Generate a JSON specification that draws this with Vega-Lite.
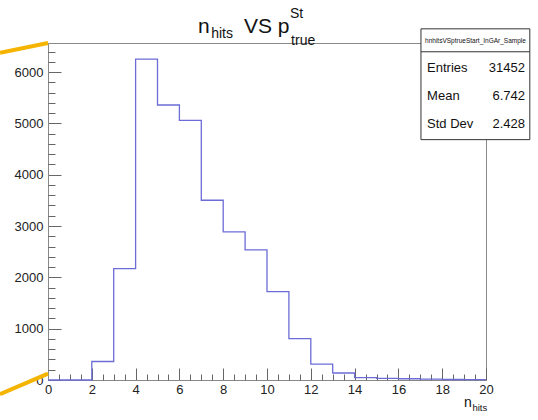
{
  "$schema": "https://vega.github.io/schema/vega-lite/v6.json",
  "width": 438,
  "height": 337,
  "autosize": {"type": "none"},
  "padding": {"left": 48, "top": 43, "right": 52, "bottom": 40},
  "background": "white",
  "config": {
    "view": {"stroke": "#8a8a8a", "strokeWidth": 1},
    "font": "Liberation Sans",
    "text": {"font": "Liberation Sans", "color": "#111"}
  },
  "datasets": {
    "one": [{}],
    "hist": [
      {"lo": 0, "n": 0},
      {"lo": 2, "n": 360},
      {"lo": 3, "n": 2170},
      {"lo": 4, "n": 6253},
      {"lo": 5, "n": 5358},
      {"lo": 6, "n": 5058},
      {"lo": 7, "n": 3502},
      {"lo": 8, "n": 2887},
      {"lo": 9, "n": 2537},
      {"lo": 10, "n": 1720},
      {"lo": 11, "n": 805},
      {"lo": 12, "n": 311},
      {"lo": 13, "n": 136},
      {"lo": 14, "n": 47},
      {"lo": 15, "n": 30},
      {"lo": 16, "n": 24},
      {"lo": 17, "n": 18},
      {"lo": 18, "n": 10},
      {"lo": 19, "n": 8},
      {"lo": 20, "n": 8}
    ]
  },
  "data": {"name": "one"},
  "layer": [
    {
      "data": {"name": "hist"},
      "mark": {"type": "line", "interpolate": "step-after", "color": "#6c6cd6", "strokeWidth": 1.3, "clip": false},
      "encoding": {
        "x": {"field": "lo", "type": "quantitative",
          "scale": {"domain": [0, 20], "nice": false, "zero": false},
          "axis": {"orient": "bottom", "values": [0, 2, 4, 6, 8, 10, 12, 14, 16, 18, 20], "title": null, "grid": false,
            "tickSize": -12, "labelPadding": 15, "tickColor": "#666", "domainColor": "#888", "labelFontSize": 13,
            "labelColor": "#222", "labelFont": "Liberation Sans", "labelFlush": false, "labelOverlap": false, "format": "d"}},
        "y": {"field": "n", "type": "quantitative",
          "scale": {"domain": [0, 6566], "nice": false, "zero": true},
          "axis": {"orient": "left", "values": [0, 1000, 2000, 3000, 4000, 5000, 6000], "title": null, "grid": false,
            "tickSize": -13, "labelPadding": 18, "tickColor": "#666", "domainColor": "#888", "labelFontSize": 13,
            "labelColor": "#222", "labelFont": "Liberation Sans", "labelFlush": false, "labelOverlap": false, "format": "d"}}
      }
    },
    {
      "data": {"name": "hist"},
      "mark": {"type": "line", "strokeOpacity": 0},
      "encoding": {
        "x": {"field": "lo", "type": "quantitative",
          "scale": {"domain": [0, 20], "nice": false, "zero": false},
          "axis": {"orient": "bottom", "values": [0.5, 1, 1.5, 2.5, 3, 3.5, 4.5, 5, 5.5, 6.5, 7, 7.5, 8.5, 9, 9.5, 10.5, 11, 11.5, 12.5, 13, 13.5, 14.5, 15, 15.5, 16.5, 17, 17.5, 18.5, 19, 19.5],
            "title": null, "grid": false, "labels": false, "domain": false, "tickSize": -6, "tickColor": "#666"}},
        "y": {"field": "n", "type": "quantitative",
          "scale": {"domain": [0, 6566], "nice": false, "zero": true},
          "axis": {"orient": "left", "values": [200, 400, 600, 800, 1200, 1400, 1600, 1800, 2200, 2400, 2600, 2800, 3200, 3400, 3600, 3800, 4200, 4400, 4600, 4800, 5200, 5400, 5600, 5800, 6200, 6400],
            "title": null, "grid": false, "labels": false, "domain": false, "tickSize": -7, "tickColor": "#666"}}
      }
    },
    {
      "mark": {"type": "rule", "color": "#f5b400", "strokeWidth": 4, "clip": false},
      "encoding": {
        "x": {"datum": -2.19, "type": "quantitative", "axis": null},
        "x2": {"datum": 0},
        "y": {"datum": 6373, "type": "quantitative", "axis": null},
        "y2": {"datum": 6566}
      }
    },
    {
      "mark": {"type": "rule", "color": "#f5b400", "strokeWidth": 4, "clip": false},
      "encoding": {
        "x": {"datum": -2.19, "type": "quantitative", "axis": null},
        "x2": {"datum": 0},
        "y": {"datum": -278, "type": "quantitative", "axis": null},
        "y2": {"datum": 125}
      }
    },
    {
      "mark": {"type": "text", "align": "left", "baseline": "alphabetic", "fontSize": 21},
      "encoding": {
        "x": {"datum": 6.85, "type": "quantitative", "axis": null},
        "y": {"datum": 6765, "type": "quantitative", "axis": null},
        "text": {"value": "n"}
      }
    },
    {
      "mark": {"type": "text", "align": "left", "baseline": "alphabetic", "fontSize": 14},
      "encoding": {
        "x": {"datum": 7.45, "type": "quantitative", "axis": null},
        "y": {"datum": 6667, "type": "quantitative", "axis": null},
        "text": {"value": "hits"}
      }
    },
    {
      "mark": {"type": "text", "align": "left", "baseline": "alphabetic", "fontSize": 21},
      "encoding": {
        "x": {"datum": 8.95, "type": "quantitative", "axis": null},
        "y": {"datum": 6765, "type": "quantitative", "axis": null},
        "text": {"value": "VS p"}
      }
    },
    {
      "mark": {"type": "text", "align": "left", "baseline": "alphabetic", "fontSize": 14},
      "encoding": {
        "x": {"datum": 11.05, "type": "quantitative", "axis": null},
        "y": {"datum": 7056, "type": "quantitative", "axis": null},
        "text": {"value": "St"}
      }
    },
    {
      "mark": {"type": "text", "align": "left", "baseline": "alphabetic", "fontSize": 14},
      "encoding": {
        "x": {"datum": 11.1, "type": "quantitative", "axis": null},
        "y": {"datum": 6531, "type": "quantitative", "axis": null},
        "text": {"value": "true"}
      }
    },
    {
      "mark": {"type": "text", "align": "left", "baseline": "alphabetic", "fontSize": 14},
      "encoding": {
        "x": {"datum": 19.0, "type": "quantitative", "axis": null},
        "y": {"datum": -531, "type": "quantitative", "axis": null},
        "text": {"value": "n"}
      }
    },
    {
      "mark": {"type": "text", "align": "left", "baseline": "alphabetic", "fontSize": 9.5},
      "encoding": {
        "x": {"datum": 19.38, "type": "quantitative", "axis": null},
        "y": {"datum": -609, "type": "quantitative", "axis": null},
        "text": {"value": "hits"}
      }
    },
    {
      "mark": {"type": "rect", "fill": "white", "stroke": "#333", "strokeWidth": 1, "clip": false},
      "encoding": {
        "x": {"datum": 17.03, "type": "quantitative", "axis": null},
        "x2": {"datum": 22.0},
        "y": {"datum": 6842, "type": "quantitative", "axis": null},
        "y2": {"datum": 4683}
      }
    },
    {
      "mark": {"type": "rule", "color": "#333", "strokeWidth": 1, "clip": false},
      "encoding": {
        "x": {"datum": 17.03, "type": "quantitative", "axis": null},
        "x2": {"datum": 22.0},
        "y": {"datum": 6395, "type": "quantitative", "axis": null}
      }
    },
    {
      "mark": {"type": "text", "align": "center", "baseline": "middle", "fontSize": 6.5},
      "encoding": {
        "x": {"datum": 19.52, "type": "quantitative", "axis": null},
        "y": {"datum": 6609, "type": "quantitative", "axis": null},
        "text": {"value": "hnhitsVSptrueStart_InGAr_Sample"}
      }
    },
    {
      "mark": {"type": "text", "align": "left", "baseline": "middle", "fontSize": 13},
      "encoding": {
        "x": {"datum": 17.31, "type": "quantitative", "axis": null},
        "y": {"datum": 6084, "type": "quantitative", "axis": null},
        "text": {"value": "Entries"}
      }
    },
    {
      "mark": {"type": "text", "align": "right", "baseline": "middle", "fontSize": 13},
      "encoding": {
        "x": {"datum": 21.78, "type": "quantitative", "axis": null},
        "y": {"datum": 6084, "type": "quantitative", "axis": null},
        "text": {"value": "31452"}
      }
    },
    {
      "mark": {"type": "text", "align": "left", "baseline": "middle", "fontSize": 13},
      "encoding": {
        "x": {"datum": 17.31, "type": "quantitative", "axis": null},
        "y": {"datum": 5539, "type": "quantitative", "axis": null},
        "text": {"value": "Mean"}
      }
    },
    {
      "mark": {"type": "text", "align": "right", "baseline": "middle", "fontSize": 13},
      "encoding": {
        "x": {"datum": 21.78, "type": "quantitative", "axis": null},
        "y": {"datum": 5539, "type": "quantitative", "axis": null},
        "text": {"value": "6.742"}
      }
    },
    {
      "mark": {"type": "text", "align": "left", "baseline": "middle", "fontSize": 13},
      "encoding": {
        "x": {"datum": 17.31, "type": "quantitative", "axis": null},
        "y": {"datum": 4994, "type": "quantitative", "axis": null},
        "text": {"value": "Std Dev"}
      }
    },
    {
      "mark": {"type": "text", "align": "right", "baseline": "middle", "fontSize": 13},
      "encoding": {
        "x": {"datum": 21.78, "type": "quantitative", "axis": null},
        "y": {"datum": 4994, "type": "quantitative", "axis": null},
        "text": {"value": "2.428"}
      }
    }
  ],
  "resolve": {"axis": {"x": "independent", "y": "independent"}}
}
